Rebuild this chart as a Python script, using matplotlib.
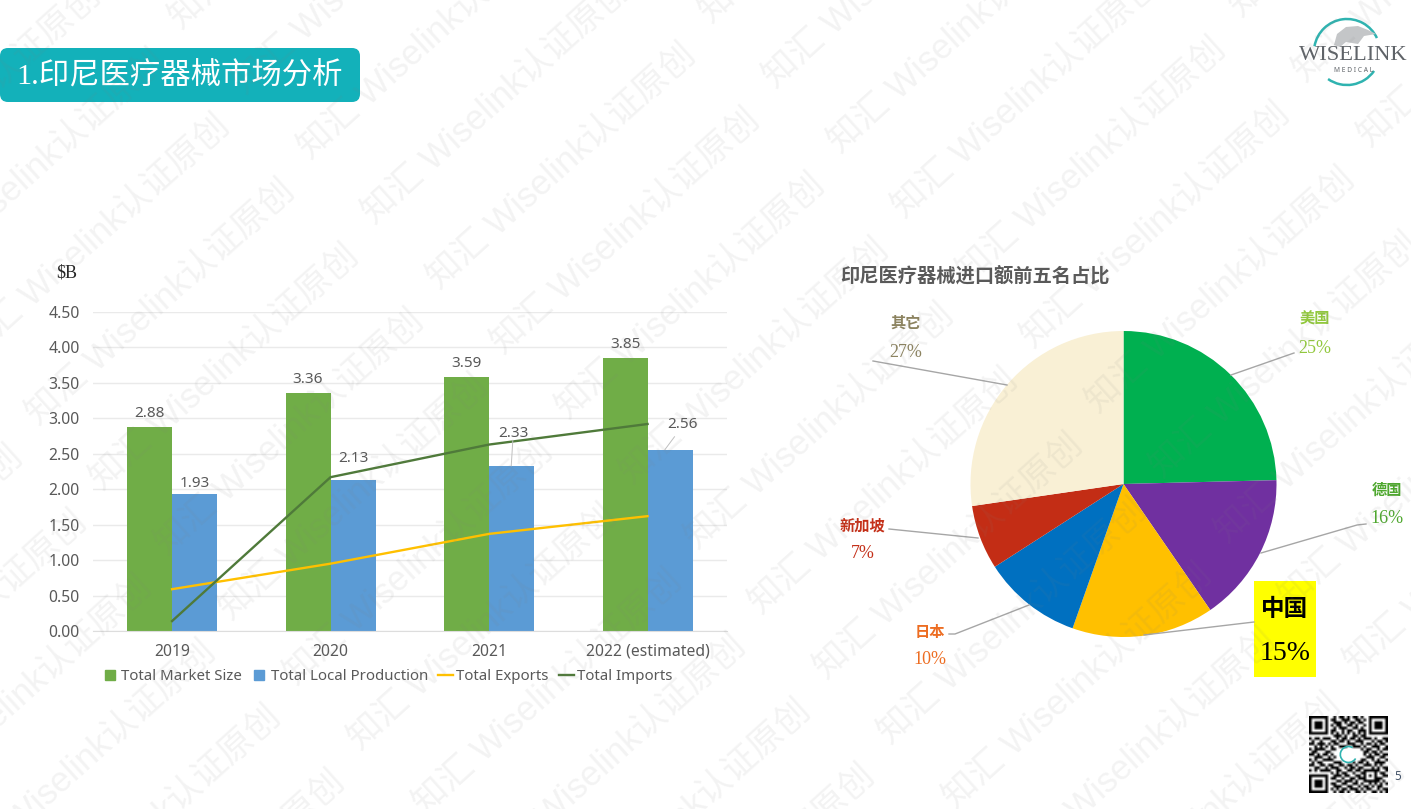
# -*- coding: utf-8 -*-
# Indonesia medical device market slide: bar/line chart, import share pie, slide furniture.

import numpy as np
import matplotlib
matplotlib.use("Agg")
import matplotlib.pyplot as plt
from matplotlib.lines import Line2D
from matplotlib.patches import Arc, FancyBboxPatch, Polygon, Rectangle

# ============================================
# Data
# ============================================
years = ["2019", "2020", "2021", "2022 (estimated)"]
market_size = [2.88, 3.36, 3.59, 3.85]
local_production = [1.93, 2.13, 2.33, 2.56]
exports = [0.59, 0.95, 1.37, 1.62]
imports = [0.14, 2.17, 2.63, 2.92]
y_ticks = [0.0, 0.5, 1.0, 1.5, 2.0, 2.5, 3.0, 3.5, 4.0, 4.5]

countries = ["美国", "德国", "中国", "日本", "新加坡", "其它"]
share_labels = ["25%", "16%", "15%", "10%", "7%", "27%"]
shares = [24.6, 15.8, 15.0, 10.5, 6.8, 27.3]
slice_colors = ["#00B050", "#7030A0", "#FFC000", "#0070C0", "#C32D15", "#F9F0D5"]
label_colors = ["#92C83E", "#4EA72E", "#000000", "#ED6D22", "#C43019", "#8C8360"]

# label centre (x, y of name, y of percent) and leader polyline, in slide pixels
label_pos = [(1315, 320, 348), (1386.5, 491, 518.5), (1285, 610, 653),
             (930, 633, 660), (862.6, 526, 553), (906, 323.7, 352)]
leaders = [[(1294, 353), (1231, 375)],
           [(1366, 524), (1357, 525), (1261, 553)],
           [(1254, 622), (1144, 635)],
           [(949, 634), (955, 634), (1029, 605)],
           [(889, 529), (978, 538)],
           [(873, 361), (1007, 385)]]

qr_rows = [
    "11111110010110101101001111111",
    "10000010110011100110101000001",
    "10111010011101011011001011101",
    "10111010101100110100101011101",
    "10111010010111001101001011101",
    "10000010110010110011101000001",
    "11111110101010101010101111111",
    "00000000011101001101100000000",
    "10110111001011011010111010011",
    "01001000110110100111000101101",
    "11011101011000111001011010110",
    "00101010100111001110100111001",
    "10111100110000000001011001011",
    "01100011000000000000110110100",
    "11010110100000000000101011011",
    "00111001010000000000011100110",
    "10100111100000000001100101001",
    "01011000011100001011010011110",
    "11001101100110110100111010100",
    "00110010111001011011000101011",
    "10101111001100110110111111001",
    "00000000101011001001100010110",
    "11111110011101100110101010011",
    "10000010110010011011100011100",
    "10111010001101110100111111010",
    "10111010110011001101001010101",
    "10111010011100110010110101100",
    "10000010101011011101011001011",
    "11111110010110100110100110101",
]

# ============================================
# Plotting configuration
# ============================================
W, H = 1411, 809
SANS = ["Noto Sans", "Noto Sans CJK SC"]
SERIF = ["Liberation Serif", "Noto Sans CJK SC"]
GREY = "#595959"
plt.rcParams["font.family"] = SANS


def px_axes(fig, left, top, right, bottom, **kw):
    return fig.add_axes([left / W, 1 - bottom / H, (right - left) / W, (bottom - top) / H], **kw)


fig = plt.figure(figsize=(W / 100, H / 100), dpi=100, facecolor="white")

# ------------------------------------------------------------------
# 1. Bar and line chart
# ------------------------------------------------------------------
ax = px_axes(fig, 92.8, 312, 726.8, 631)
x = np.arange(len(years))
bar_w = 0.284
ax.bar(x - bar_w / 2, market_size, bar_w, color="#70AD47", zorder=2)
ax.bar(x + bar_w / 2, local_production, bar_w, color="#5B9BD5", zorder=2)
ax.plot(x, exports, color="#FFC000", linewidth=1.7, zorder=3)
ax.plot(x, imports, color="#4F7A3A", linewidth=1.7, zorder=3)
ax.set_xlim(-0.5, 3.5)
ax.set_ylim(0, 4.5)
ax.set_xticks(x, years)
ax.set_yticks(y_ticks, [f"{v:.2f}" for v in y_ticks])
ax.tick_params(axis="both", length=0, labelsize=11.3, colors=GREY)
ax.tick_params(axis="y", pad=9.5)
ax.tick_params(axis="x", pad=9)
ax.grid(axis="y", color="#EAEAEA", linewidth=1)
ax.set_axisbelow(True)
for side in ["top", "left", "right"]:
    ax.spines[side].set_visible(False)
ax.spines["bottom"].set_color("#DDDDDD")

for xi, v in zip(x, market_size):
    ax.annotate(f"{v:.2f}", (xi - bar_w / 2, v), xytext=(0, 9.5), textcoords="offset points",
                ha="center", va="center", fontsize=11, color=GREY, zorder=5)
# local production labels sit further off the bars, the last two with leader lines
label_offsets = [(0, 8), (0, 15.5), (1, 23), (9, 18)]
for xi, v, off in zip(x, local_production, label_offsets):
    ax.annotate(f"{v:.2f}", (xi + bar_w / 2, v), xytext=off, textcoords="offset points",
                ha="center", va="center", fontsize=11, color=GREY, zorder=5)
ax.plot([2.15, 2.14], [2.69, 2.33], color="#BFBFBF", linewidth=0.7, zorder=4)
ax.plot([3.17, 3.11], [2.74, 2.56], color="#BFBFBF", linewidth=0.7, zorder=4)

handles = [Line2D([], [], marker="s", linestyle="none", markersize=7.5, color="#70AD47"),
           Line2D([], [], marker="s", linestyle="none", markersize=7.5, color="#5B9BD5"),
           Line2D([], [], color="#FFC000", linewidth=1.7),
           Line2D([], [], color="#4F7A3A", linewidth=1.7)]
ax.legend(handles, ["Total Market Size", "Total Local Production", "Total Exports", "Total Imports"],
          loc="center", bbox_to_anchor=(0.465, -0.144), ncol=4, frameon=False, fontsize=10.8,
          labelcolor=GREY, handlelength=1.0, handletextpad=0.25, columnspacing=0.65, borderpad=0)

# ------------------------------------------------------------------
# 2. Pie chart
# ------------------------------------------------------------------
pie_ax = px_axes(fig, 1123.5 - 153, 484 - 153, 1123.5 + 153, 484 + 153)
pie_ax.pie(shares, colors=slice_colors, startangle=90, counterclock=False, radius=1)
pie_ax.set_xlim(-1, 1)
pie_ax.set_ylim(-1, 1)

# ------------------------------------------------------------------
# 3. Slide overlay in pixel coordinates (y downwards)
# ------------------------------------------------------------------
ov = px_axes(fig, 0, 0, W, H, zorder=10)
ov.set_xlim(0, W)
ov.set_ylim(H, 0)
ov.axis("off")
ov.patch.set_alpha(0)

# header banner
ov.add_patch(FancyBboxPatch((8, 56), 344, 38, boxstyle="round,pad=8,rounding_size=8",
                            facecolor="#13B1BA", edgecolor="none"))
ov.text(16, 76, "1.印尼医疗器械市场分析", family=SERIF, fontsize=21.9, color="white", ha="left", va="center")

ov.text(67, 273, "$B", family=SERIF, fontsize=13, color="#262626", ha="center", va="center", parse_math=False)

# pie title, labels and leaders
ov.text(840, 276, "印尼医疗器械进口额前五名占比", family=SERIF, fontsize=13.9, weight="bold",
        color="#595959", ha="left", va="center")
ov.add_patch(Rectangle((1254, 581), 62, 96, facecolor="#FFFF00", edgecolor="none"))
for name, pct, col, pos, line in zip(countries, share_labels, label_colors, label_pos, leaders):
    big = name == "中国"
    ov.plot(*zip(*line), color="#A6A6A6", linewidth=1.0)
    ov.text(pos[0], pos[1], name, family=SERIF, fontsize=17 if big else 11, weight="bold", color=col,
            ha="center", va="center")
    ov.text(pos[0], pos[2], pct, family=SERIF, fontsize=20 if big else 13, color=col,
            ha="center", va="center")

# logo
ov.add_patch(Arc((1347, 52), 66, 66, theta1=190, theta2=335, color="#2FB3B0", linewidth=1.8))
ov.add_patch(Arc((1347, 52), 66, 66, theta1=35, theta2=125, color="#2FB3B0", linewidth=1.8))
ov.add_patch(Polygon([(1334, 45), (1337, 34), (1346, 27), (1358, 26), (1368, 30), (1376, 34),
                      (1364, 36), (1358, 44), (1346, 42), (1340, 47)],
                     facecolor="#C4C6C8", edgecolor="none"))
ov.text(1353, 55, "WISELINK", family="Liberation Serif", fontsize=16.2, color="#5F6368",
        ha="center", va="center")
ov.text(1354, 70, "M E D I C A L", family="Noto Sans", fontsize=4.8, color="#5F6368",
        ha="center", va="center")

# page number
ov.text(1398, 777, "5", fontsize=8.5, color="#44546A", ha="center", va="center")

# repeated watermark lattice
for i in range(-16, 17):
    for j in range(-6, 7):
        cx = 497 + 64.5 * i + 272 * j
        cy = 101 + 65 * i - 266 * j
        if -120 < cx < W + 120 and -120 < cy < H + 120:
            ov.text(cx, cy, "知汇 Wiselink认证原创", family=["Liberation Sans", "Noto Sans CJK SC"],
                    fontsize=25, color="#7F7F7F", alpha=0.09, rotation=42, rotation_mode="anchor",
                    ha="center", va="center", clip_on=True, zorder=20)

# QR code
qr_ax = px_axes(fig, 1309, 716, 1388, 793, zorder=11)
qr = np.array([[int(c) for c in row] for row in qr_rows])
qr_ax.imshow(qr, cmap="gray_r", interpolation="bilinear", aspect="auto")
qr_ax.axis("off")
qr_ax.add_patch(Arc((14, 14), 6, 6, theta1=30, theta2=300, color="#2FB3B0", linewidth=1.2))

fig.savefig("out.png", dpi=100, facecolor="white")
